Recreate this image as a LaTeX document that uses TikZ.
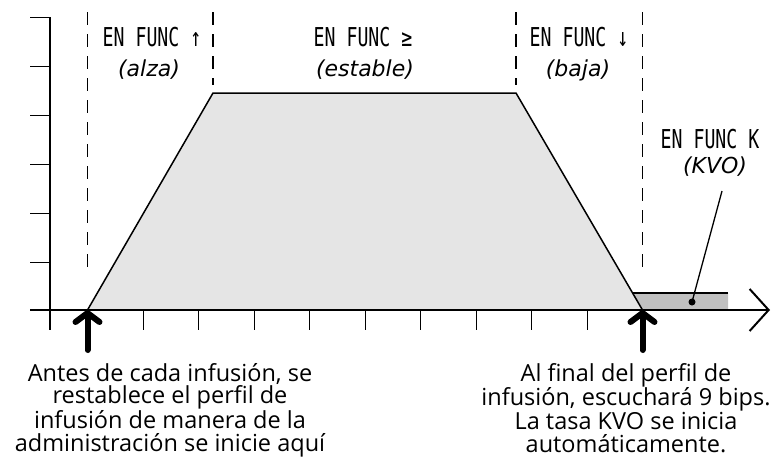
\documentclass[tikz,border=0pt]{standalone}
\usepackage{fontspec}
\setmainfont{Open Sans}
\newfontfamily\lcdfont[FakeStretch=0.7]{DejaVu Sans Mono}
\newfontfamily\notefont{DejaVu Sans}
\usetikzlibrary{arrows.meta}
\definecolor{lightfill}{RGB}{229,229,229}
\definecolor{kvofill}{RGB}{192,192,192}

\begin{document}
\begin{tikzpicture}[x=1pt,y=-1pt,
  phase/.style={dash pattern=on 13pt off 9pt,line width=1.7pt},
  lcd/.style={inner sep=0pt,font=\lcdfont\fontsize{26}{26}\selectfont},
  note/.style={inner sep=0pt,font=\notefont\fontsize{22}{22}\selectfont\itshape},
  explain/.style={inner sep=0pt,align=center,font=\fontsize{23.5}{22.7}\selectfont},
  uparrow/.style={line width=6pt,line cap=round,-{Straight Barb[length=9pt,width=24pt,round]}}]
\useasboundingbox (0,0) rectangle (772,458);
\coordinate (p0) at (87.5,310); \coordinate (p1) at (213,93); \coordinate (p2) at (516,93); \coordinate (p3) at (642.5,310);
\fill[lightfill] (p0) -- (p1) -- (p2) -- (p3) -- cycle;
\fill[kvofill] (633,293) -- (728,293) -- (728,310) -- (p3) -- cycle;
\draw[line width=1.5pt] (p0) -- (p1) -- (p2) -- (p3);
\draw[line width=1.5pt] (633,293) -- (728,293);
\draw[phase] (87.5,12) -- (87.5,272);	\draw[phase] (213,12) -- (213,85);
\draw[phase] (516,12) -- (516,85);	\draw[phase] (642.5,12) -- (642.5,272);
\draw[line width=1.6pt] (50,17) -- (50,330);
\foreach \y in {17,66,115,164,213,262} \draw[line width=1pt] (30,\y) -- (50,\y);
\foreach \k in {1,...,9} \draw[line width=1pt] (87.5+55.5*\k,310) -- (87.5+55.5*\k,330);
\draw[line width=2pt,-{Straight Barb[length=19pt,width=42pt]}] (30,310) -- (770,310);
\node[lcd] (upA) at (152,37) {EN FUNC ↑};
\node[note] (upB) at (149,70) {(alza)};
\node[lcd] (steadyA) at (363,37) {EN FUNC ≥};
\node[note] (steadyB) at (365,70) {(estable)};
\node[lcd] (downA) at (579,37) {EN FUNC ↓};
\node[note] (downB) at (578,70) {(baja)};
\node[lcd] (kvoA) at (710,139) {EN FUNC K};
\node[note] (kvoB) at (715,167) {(KVO)};
\coordinate (dot) at (692,302); \coordinate (lead) at (722,191);
\fill (dot) circle (3.5pt);
\draw[line width=1.3pt] (dot) -- (lead);
\node[explain,anchor=north] (before) at (170,363) {Antes de cada infusión, se\\restablece el perfil de\\infusión de manera de la\\administración se inicie aquí};
\node[explain,anchor=north] (after) at (626,363) {Al final del perfil de\\infusión, escuchará 9 bips.\\La tasa KVO se inicia\\automáticamente.};
\coordinate (startA) at (87.5,350); \coordinate (startB) at (642.5,350);
\draw[uparrow] (startA) -- (p0);
\draw[uparrow] (startB) -- (p3);
\end{tikzpicture}
\end{document}
